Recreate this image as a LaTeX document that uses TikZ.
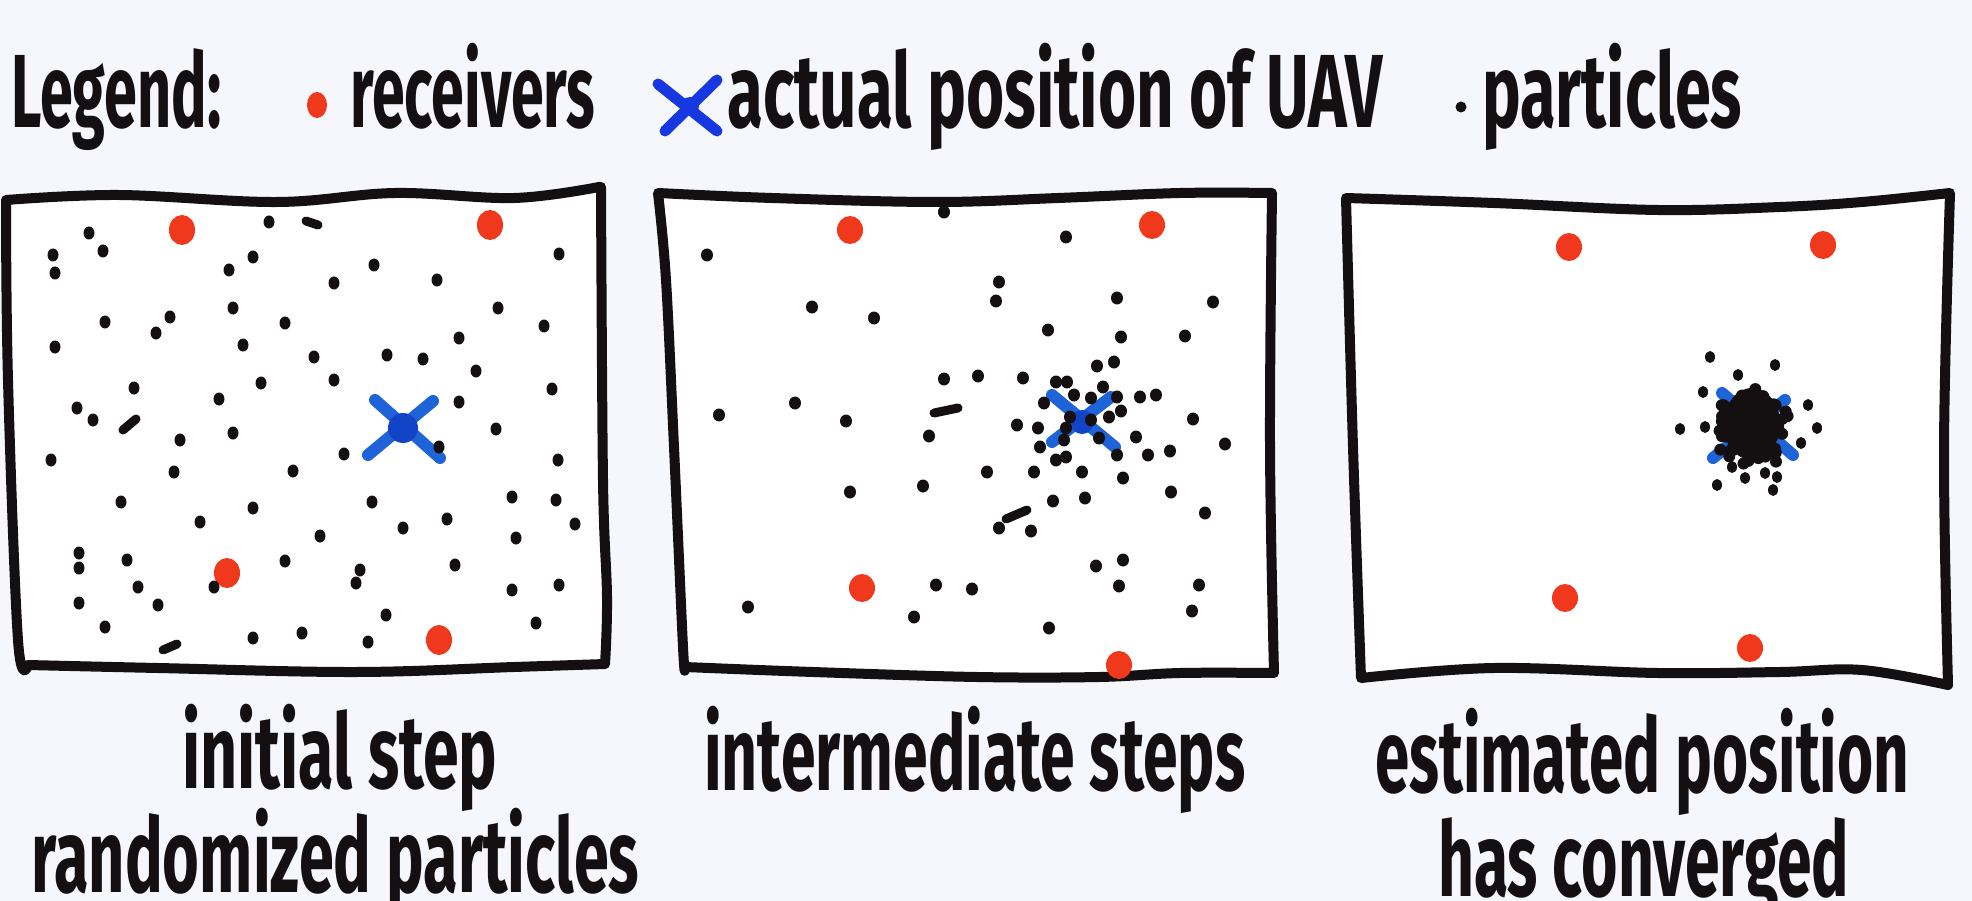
\documentclass[tikz,border=0pt]{standalone}
\usepackage{fontspec}
\usepackage{graphicx}
\setmainfont{Fira Sans}
% squeeze a text horizontally to a given width
\newcommand{\hw}[2]{\resizebox{#1}{\height}{#2}}
\definecolor{bg}{HTML}{F5F7FC}
\definecolor{ink}{HTML}{141012}
\definecolor{rcv}{HTML}{F0381C}
\definecolor{uav}{HTML}{1F63D9}
\definecolor{uavdark}{HTML}{1244C8}
\definecolor{uavleg}{HTML}{1737E0}
\begin{document}
\begin{tikzpicture}[x=1pt,y=-1pt,
  lbl/.style={anchor=base west,inner sep=0pt,text=ink,font=\fontsize{104pt}{110pt}\selectfont\bfseries},
  frame/.style={draw=ink,fill=white,line width=10pt,line join=round,line cap=round},
  pt/.style={fill=ink},
  rx/.style={fill=rcv},
  xarm/.style={draw=uav,line width=12pt,line cap=round},
  streak/.style={draw=ink,line width=9pt,line cap=round}]
\fill[bg] (0,0) rectangle (1972,901);
\useasboundingbox (0,0) rectangle (1972,901);

% ---------- legend ----------
\node[lbl] (legend) at (11,128) {\hw{210pt}{Legend:}};
\fill[rcv] (317,105) ellipse (10 and 13);
\node[lbl] (recv) at (350,128) {\hw{245pt}{receivers}};
\draw[uavleg,line width=11pt,line cap=round] (658,84) -- (717,131);
\draw[uavleg,line width=11pt,line cap=round] (717,80) -- (665,131);
\fill[uavleg] (690,106) circle (9);
\node[lbl] (actual) at (727,128) {\hw{656pt}{actual position of UAV}};
\fill[ink] (1461,107) circle (5.5);
\node[lbl] (parts) at (1482,128) {\hw{260pt}{particles}};

% ---------- panel 1: initial step ----------
\path[frame] plot[smooth,tension=.6] coordinates {(6,200) (119,195) (277,202) (395,193) (514,198) (599,187)}
  -- plot[smooth,tension=.6] coordinates {(601,187) (603,480) (607,597) (605,664)}
  -- plot[smooth,tension=.6] coordinates {(605,664) (514,667) (356,672) (158,668) (28,665)}
  -- plot[smooth,tension=.6] coordinates {(28,665) (18,640) (8,380) (6,200)} -- cycle;
\foreach \x/\y in {182/230,490/225,227/573,439/640} \fill[rx] (\x,\y) ellipse (13 and 15);
\draw[xarm] (375,400) -- (440,458);
\draw[xarm] (433,401) -- (368,455);
\fill[uavdark] (403,428) circle (15);
\foreach \x/\y in {269/222,89/233,53/255,103/251,55/273,253/257,229/270,374/265,334/283,437/280,559/254,
  233/308,105/322,170/317,156/333,285/323,498/308,544/326,459/338,55/347,243/345,314/357,387/355,423/359,476/371,
  261/383,334/380,134/388,552/389,219/399,77/408,93/420,459/402,233/433,180/440,496/429,
  51/460,344/454,439/447,558/460,174/472,293/471,121/502,253/508,372/502,512/497,556/500,200/522,447/519,575/524,
  320/536,403/528,516/538,79/553,127/560,285/561,455/565,79/568,360/570,214/587,138/587,356/583,512/590,559/585,
  79/603,158/605,386/615,105/627,536/623,253/638,302/633,368/642}
  \fill[pt] (\x,\y) ellipse (5.5 and 6.5);
\draw[streak] (306,221) -- (318,225);
\draw[streak] (123,430) -- (136,419);
\draw[streak] (163,650) -- (177,644);

% ---------- panel 2: intermediate steps ----------
\path[frame] plot[smooth,tension=.6] coordinates {(658,193) (772,198) (936,202) (1058,198) (1180,193) (1272,193)}
  -- plot[smooth,tension=.6] coordinates {(1272,193) (1270,447) (1274,673)}
  -- plot[smooth,tension=.6] coordinates {(1274,673) (1180,673) (1099,677) (977,677) (813,672) (685,667)}
  -- plot[smooth,tension=.6] coordinates {(685,667) (683,647) (674,447) (666,280) (658,193)} -- cycle;
\foreach \x/\y in {850/230,1152/225,862/588,1119/665} \fill[rx] (\x,\y) ellipse (13 and 14);
\draw[xarm] (1052,395) -- (1115,447);
\draw[xarm] (1111,397) -- (1052,442);
\fill[uavdark] (1082,422) circle (12);
\foreach \x/\y in {944/212,1066/237,707/255,999/282,996/301,1117/298,1213/302,812/307,874/318,1048/330,1121/337,1185/336,
  1097/366,1114/362,944/379,978/376,1023/378,1056/382,1067/382,1103/387,795/403,719/415,846/421,1017/425,1038/428,
  1044/403,1074/395,1091/398,1117/397,1140/397,1156/395,1121/411,1109/417,1193/419,1070/417,1066/428,1091/420,
  929/436,1040/447,1064/440,1099/438,1136/437,1225/444,1117/455,1148/455,1170/451,1056/460,1066/457,987/472,
  1034/472,1082/472,1123/478,850/492,923/486,1171/492,1053/501,1085/498,1205/513,999/528,1031/531,1096/566,
  1123/560,1119/586,936/585,972/589,1199/585,748/607,914/617,1192/611,1049/628}
  \fill[pt] (\x,\y) ellipse (6 and 6.5);
\draw[streak] (934,413) -- (958,408);
\draw[streak] (1006,519) -- (1027,510);

% ---------- panel 3: converged estimate ----------
\path[frame] plot[smooth,tension=.6] coordinates {(1346,198) (1494,203) (1658,210) (1780,207) (1862,202) (1950,193)}
  -- plot[smooth,tension=.6] coordinates {(1950,193) (1944,447) (1948,685)}
  -- plot[smooth,tension=.6] coordinates {(1948,685) (1862,670) (1780,672) (1658,673) (1494,668) (1361,678)}
  -- plot[smooth,tension=.6] coordinates {(1361,678) (1353,447) (1346,198)} -- cycle;
\foreach \x/\y in {1569/247,1823/245,1565/598,1750/648} \fill[rx] (\x,\y) ellipse (13 and 14);
\draw[xarm] (1722,393) -- (1793,455);
\draw[xarm] (1785,400) -- (1713,458);
\fill[ink] (1752,424) ellipse (28 and 36);
\pgfmathsetseed{7}
\foreach \i in {1,...,190} {
  \pgfmathsetmacro{\bx}{1752+15*(rand+rand+rand)}
  \pgfmathsetmacro{\by}{424+16*(rand+rand+rand)}
  \fill[pt] (\bx,\by) circle (6);
}
\foreach \x/\y in {1710/357,1775/365,1738/375,1703/392,1680/429,1705/427,1808/405,1817/428,
  1732/467,1745/478,1765/473,1777/477,1717/485,1773/490,1801/443}
  \fill[pt] (\x,\y) ellipse (5 and 6);

% ---------- captions ----------
\node[lbl] (cap1a) at (182,788) {\hw{315pt}{initial step}};
\node[lbl] (cap1b) at (31,892) {\hw{608pt}{randomized particles}};
\node[lbl] (cap2) at (704,790) {\hw{541pt}{intermediate steps}};
\node[lbl] (cap3a) at (1375,792) {\hw{534pt}{estimated position}};
\node[lbl] (cap3b) at (1438,896) {\hw{411pt}{has converged}};
\end{tikzpicture}
\end{document}
